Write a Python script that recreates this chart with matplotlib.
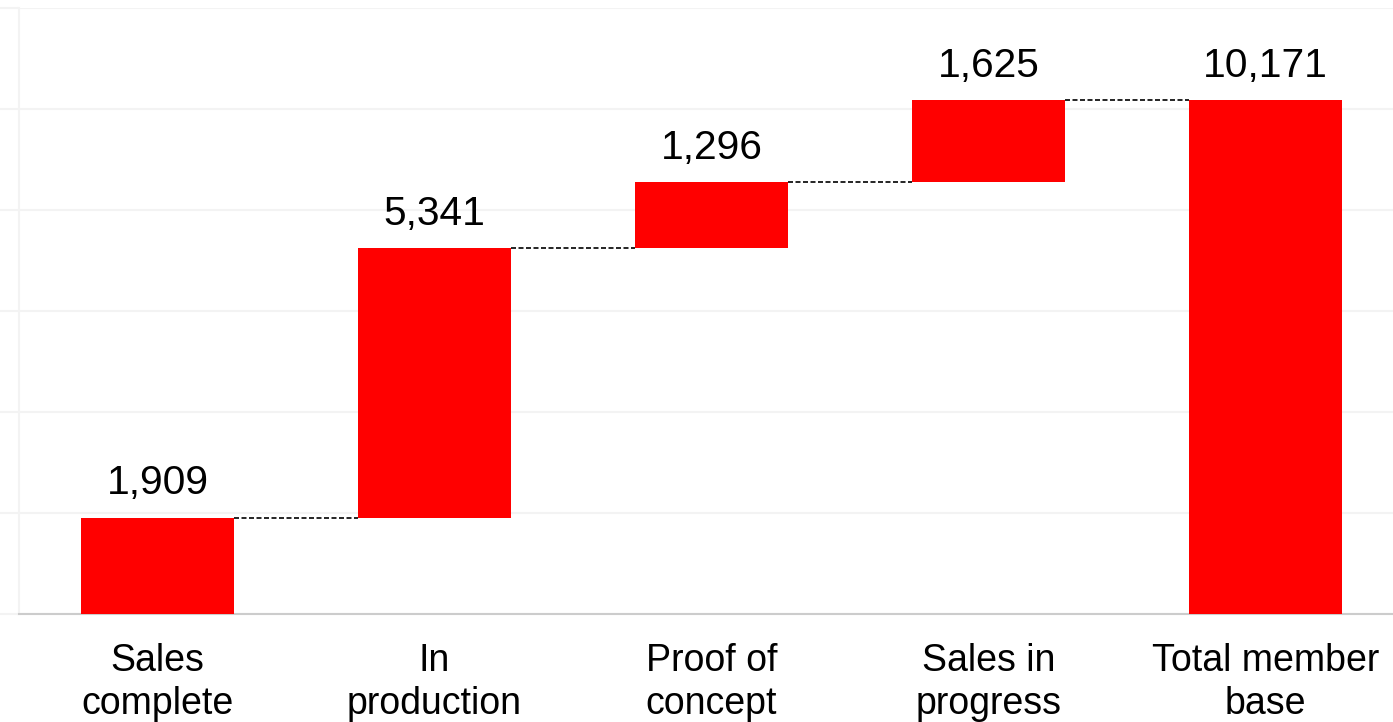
import matplotlib.pyplot as plt
import numpy as np

categories = ["Sales\ncomplete", "In\nproduction", "Proof of\nconcept", "Sales in\nprogress", "Total member\nbase"]
steps = [1909, 5341, 1296, 1625]
total = 10171
labels = ["1,909", "5,341", "1,296", "1,625", "10,171"]

plt.rcParams['font.family'] = ['Liberation Sans', 'DejaVu Sans']

# waterfall bottoms / heights
bottoms = list(np.concatenate([[0], np.cumsum(steps)[:-1]])) + [0]
heights = steps + [total]
tops = [b + h for b, h in zip(bottoms, heights)]
x = np.arange(len(categories))
width = 0.55

fig = plt.figure(figsize=(13.93, 7.22), dpi=100)
ax = fig.add_axes([19 / 1393, 1 - 614 / 722, (1404 - 19) / 1393, (614 - 8) / 722])

ax.bar(x, heights, bottom=bottoms, width=width, color='#ff0000', zorder=3)

# dashed connectors
for i in range(len(x) - 1):
    ax.plot([x[i] + width / 2, x[i + 1] - width / 2], [tops[i], tops[i]],
            color='black', linestyle=(0, (3, 1.5)), linewidth=1.2, zorder=2)

for xi, t, lab in zip(x, tops, labels):
    ax.text(xi, t + 300, lab, ha='center', va='bottom', fontsize=29.3)

ax.set_xlim(-0.5, 4.5)
ax.set_ylim(0, 12000)
ax.set_yticks(np.arange(0, 12001, 2000))
ax.set_yticklabels([])
ax.tick_params(axis='y', length=15, color='#f3f3f3', width=1.5)
ax.tick_params(axis='x', length=0, pad=21)
ax.set_xticks(x)
ax.set_xticklabels(categories, fontsize=27, linespacing=1.25)
ax.grid(axis='y', color='#f3f3f3', linewidth=1.5, zorder=0)
ax.spines['top'].set_visible(False)
ax.spines['right'].set_visible(False)
ax.spines['left'].set_color('#f3f3f3')
ax.spines['left'].set_linewidth(1.5)
ax.spines['bottom'].set_color('#cccccc')
ax.spines['bottom'].set_linewidth(1.5)
ax.set_axisbelow(True)

fig.savefig('out.png', dpi=100)
